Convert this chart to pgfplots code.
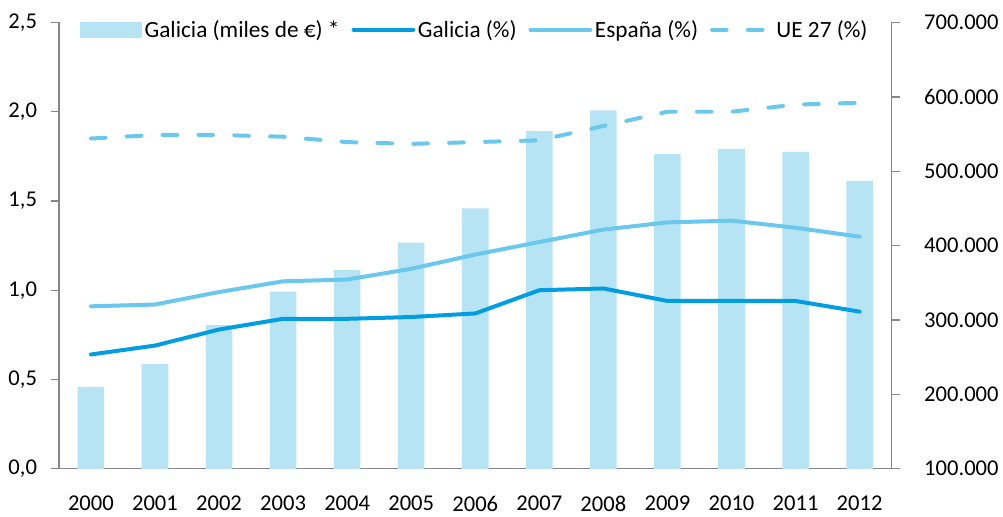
\documentclass[border=0pt]{standalone}
\usepackage{pgfplots}
\pgfplotsset{compat=1.18}
\usepackage{fontspec}
\setmainfont{Carlito}
\definecolor{barc}{RGB}{183,228,245}
\definecolor{galc}{RGB}{0,158,224}
\definecolor{espc}{RGB}{106,200,236}
\definecolor{axc}{RGB}{134,134,134}
\begin{document}
\begin{tikzpicture}
\pgfplotsset{
  every axis/.append style={
    scale only axis, width=627pt, height=336pt,
    xmin=-0.5, xmax=12.5,
    font=\fontsize{17}{20}\selectfont,
    axis line style={axc, line width=1pt},
    tick style={axc, line width=1pt},
    tick align=outside,
    /pgf/number format/assume math mode=true,
  }
}
\begin{axis}[
  axis x line*=bottom,
  axis y line*=right,
  ymin=100000, ymax=700000,
  ytick={100000,200000,300000,400000,500000,600000,700000},
  scaled y ticks=false,
  yticklabel style={/pgf/number format/fixed, /pgf/number format/1000 sep={.}},
  yticklabel style={xshift=15pt},
  major tick length=6pt,
  xtick={0,...,12},
  xticklabels={2000,2001,2002,2003,2004,2005,2006,2007,2008,2009,2010,2011,2012},
  x tick style={draw=none},
  minor xtick={-0.5,0.5,...,12.5},
  minor tick length=6pt,
  minor x tick style={axc, line width=1pt},
  xticklabel style={yshift=-11pt},
  ybar, bar width=20pt,
]
\addplot[fill=barc, draw=none] coordinates {
(0,210000) (1,241000) (2,293000) (3,338000) (4,367000) (5,404000) (6,450000)
(7,554000) (8,582000) (9,523000) (10,530000) (11,526000) (12,487000)};
\end{axis}
\begin{axis}[
  axis x line=none,
  axis y line*=left,
  ymin=0, ymax=2.5,
  ytick={0,0.5,...,2.5},
  yticklabel style={/pgf/number format/fixed, /pgf/number format/fixed zerofill, /pgf/number format/precision=1, /pgf/number format/use comma},
  yticklabel style={xshift=-7pt},
  major tick length=6pt,
  legend style={at={(0.5,1)}, anchor=north, yshift=6pt, draw=none, fill=none,
    legend columns=4, font=\fontsize{17.5}{20}\selectfont,
    /tikz/every even column/.append style={column sep=7pt}},
  legend cell align=left,
  legend image code/.code={\draw[#1] (0pt,0pt) -- (45pt,0pt);},
]
\addlegendimage{legend image code/.code={\fill[barc] (0pt,-5.5pt) rectangle (46pt,5.5pt);}}
\addlegendentry{Galicia (miles de €) *}
\addplot[galc, line width=3pt, line cap=round, line join=round] coordinates {
(0,0.64) (1,0.69) (2,0.78) (3,0.84) (4,0.84) (5,0.85) (6,0.87)
(7,1.00) (8,1.01) (9,0.94) (10,0.94) (11,0.94) (12,0.88)};
\addlegendentry{Galicia (\%)}
\addplot[espc, line width=3pt, line cap=round, line join=round] coordinates {
(0,0.91) (1,0.92) (2,0.99) (3,1.05) (4,1.06) (5,1.12) (6,1.20)
(7,1.27) (8,1.34) (9,1.38) (10,1.39) (11,1.35) (12,1.30)};
\addlegendentry{España (\%)}
\addplot[espc, line width=3pt, line cap=round, dash pattern=on 11pt off 16pt] coordinates {
(0,1.85) (1,1.87) (2,1.87) (3,1.86) (4,1.83) (5,1.82) (6,1.83)
(7,1.84) (8,1.92) (9,2.00) (10,2.00) (11,2.04) (12,2.05)};
\addlegendentry{UE 27 (\%)}
\end{axis}
\path ([yshift=7pt]current bounding box.north west) ([xshift=-3pt]current bounding box.west);
\end{tikzpicture}
\end{document}
